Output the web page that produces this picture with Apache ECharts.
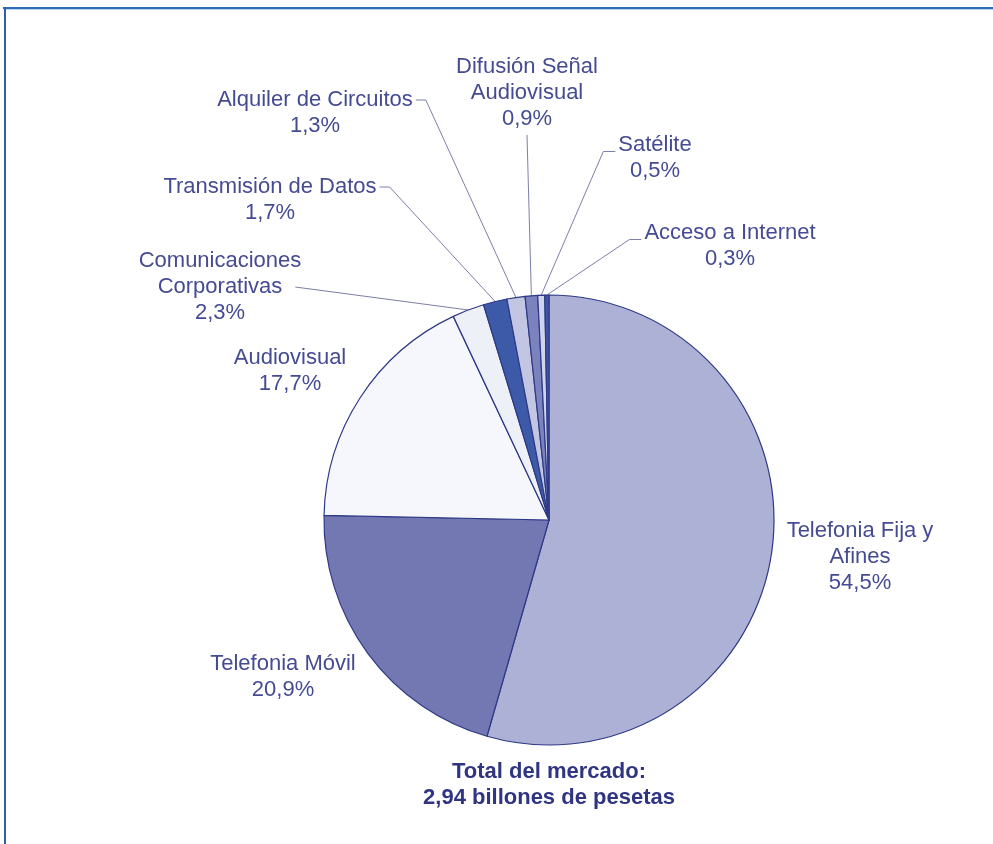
<!DOCTYPE html>
<html>
<head>
<meta charset="utf-8">
<script src="https://cdn.jsdelivr.net/npm/echarts@6/dist/echarts.min.js"></script>
<style>
  html, body { margin: 0; padding: 0; background: #ffffff; }
  #chart { width: 993px; height: 844px; }
</style>
</head>
<body>
<div id="chart"></div>
<script>
// Market segments (clockwise from 12 o'clock) and their share of the total, in %
const segments = [
  'Telefonia Fija y\nAfines',
  'Telefonia Móvil',
  'Audiovisual',
  'Comunicaciones\nCorporativas',
  'Transmisión de Datos',
  'Alquiler de Circuitos',
  'Difusión Señal\nAudiovisual',
  'Satélite',
  'Acceso a Internet'
];
const shares = [54.5, 20.9, 17.7, 2.3, 1.7, 1.3, 0.9, 0.5, 0.3];
const totalLines = ['Total del mercado:', '2,94 billones de pesetas'];

// Presentation
const sliceColors = ['#aeb1d6', '#7478b2', '#f6f7fc', '#eef0f8', '#3d5aa8', '#c3c6e3', '#7c82bd', '#d0d3ec', '#3f55a2'];
const labelSpots = [
  [860, 557], [283, 677], [290, 371], [220, 287], [270, 200],
  [315, 113], [527, 93], [655, 158], [730, 246]
];
// which side of the label its guide line meets: none, right, bottom, left
const guideSide = [null, null, null, 'rightMid', 'right', 'right', 'bottom', 'left', 'left'];

const fmt = v => v.toFixed(1).replace('.', ',') + '%';

const chart = echarts.init(document.getElementById('chart'), null, { renderer: 'canvas' });

function placeLabel(params) {
  const i = params.dataIndex;
  const p = labelSpots[i];
  const out = { x: p[0], y: p[1], align: 'center', verticalAlign: 'middle' };
  const side = guideSide[i];
  const pts = params.labelLinePoints;
  if (side && pts && pts.length) {
    const anchor = pts[0];
    const w = params.labelRect.width, h = params.labelRect.height;
    let end, elbow;
    if (side === 'right') {
      end = [p[0] + w / 2 + 3, p[1] - h / 4];
      elbow = [end[0] + 10, end[1]];
    } else if (side === 'rightMid') {
      end = [p[0] + w / 2 - 6, p[1]];
      elbow = end;
    } else if (side === 'left') {
      end = [p[0] - w / 2 - 3, p[1] - h / 8];
      elbow = [end[0] - 12, end[1]];
    } else {
      end = [p[0], p[1] + h / 2 + 3];
      elbow = end;
    }
    out.labelLinePoints = [anchor, elbow, end];
  }
  return out;
}

chart.setOption({
  backgroundColor: '#ffffff',
  animation: false,
  graphic: [
    { type: 'line', shape: { x1: 3, y1: 8, x2: 993, y2: 8 }, style: { stroke: '#2f6cb6', lineWidth: 2 } },
    { type: 'line', shape: { x1: 5, y1: 9.5, x2: 993, y2: 9.5 }, style: { stroke: '#bcd3ee', lineWidth: 1 } },
    { type: 'line', shape: { x1: 5, y1: 7, x2: 5, y2: 844 }, style: { stroke: '#2f5fa8', lineWidth: 2 } },
    {
      type: 'text', x: 549, y: 785,
      style: {
        text: totalLines.join('\n'),
        align: 'center', verticalAlign: 'middle',
        fontFamily: 'Liberation Sans, Arial, sans-serif',
        fontSize: 22, fontWeight: 'bold', lineHeight: 26,
        fill: '#2f3582'
      }
    }
  ],
  series: [{
    type: 'pie',
    center: [549, 520],
    radius: [0, 225],
    startAngle: 90,
    clockwise: true,
    avoidLabelOverlap: false,
    itemStyle: { borderColor: '#2e3a86', borderWidth: 1.2 },
    label: {
      show: true,
      position: 'outside',
      formatter: p => p.name + '\n' + fmt(p.value),
      fontFamily: 'Liberation Sans, Arial, sans-serif',
      fontSize: 22,
      lineHeight: 26,
      color: '#454b93',
      align: 'center'
    },
    labelLine: {
      show: true,
      length: 10,
      length2: 8,
      lineStyle: { color: '#7d80a8', width: 1 }
    },
    labelLayout: placeLabel,
    emphasis: { disabled: true },
    data: shares.map((v, i) => ({
      name: segments[i],
      value: v,
      itemStyle: { color: sliceColors[i] },
      labelLine: { show: guideSide[i] !== null }
    }))
  }]
});
</script>
</body>
</html>
